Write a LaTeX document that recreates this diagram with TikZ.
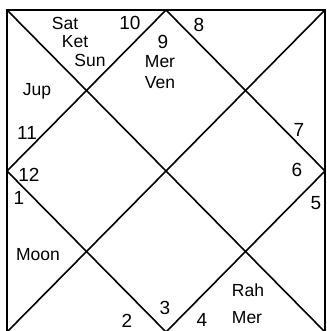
\documentclass[tikz,border=0pt]{standalone}
\usepackage{fontspec}
\setmainfont{Liberation Sans}
\begin{document}
\begin{tikzpicture}[x=1pt,y=-1pt,line width=1.6pt,
  planet/.style={font=\fontsize{17.5}{19}\selectfont, inner sep=1pt},
  house/.style={font=\fontsize{19}{21}\selectfont, inner sep=1pt}]
\useasboundingbox (0,0) rectangle (326,331);
% frame and diagonals
\draw (7,10) rectangle (325,332);
\draw (7,10) -- (325,332);
\draw (325,10) -- (7,332);
\draw (166,10) -- (325,171) -- (166,332) -- (7,171) -- cycle;
% house numbers
\node[house] (h1) at (19,198) {1};
\node[house] (h2) at (127,321) {2};
\node[house] (h3) at (165,308) {3};
\node[house] (h4) at (202,320) {4};
\node[house] (h5) at (316,203) {5};
\node[house] (h6) at (297,170) {6};
\node[house] (h7) at (299,130) {7};
\node[house] (h8) at (199,25) {8};
\node[house] (h9) at (163,42) {9};
\node[house] (h10) at (130,23) {10};
\node[house] (h11) at (27,133) {11};
\node[house] (h12) at (29,175) {12};
% planets
\node[planet] (sat) at (65,23) {Sat};
\node[planet] (ket) at (75,42) {Ket};
\node[planet] (sun) at (90,60) {Sun};
\node[planet] (mer9) at (160,62) {Mer};
\node[planet] (ven) at (160,83) {Ven};
\node[planet] (jup) at (37,91) {Jup};
\node[planet] (moon) at (38,255) {Moon};
\node[planet] (rah) at (248,290) {Rah};
\node[planet] (mer4) at (247,318) {Mer};
\end{tikzpicture}
\end{document}
